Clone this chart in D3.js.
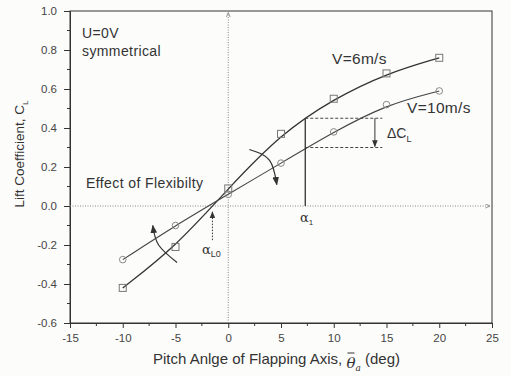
<!DOCTYPE html>
<html><head><meta charset="utf-8">
<script src="https://cdn.jsdelivr.net/npm/d3@7"></script>
<style>
html,body{margin:0;padding:0;background:#fcfcfb;}
svg{display:block;font-family:"Liberation Sans",Arial,sans-serif;}
</style></head>
<body>
<svg id="c" width="511" height="376"></svg>
<script>
const pitch = [-10, -5, 0, 5, 10, 15, 20];
const cl6 = [-0.42, -0.21, 0.09, 0.37, 0.55, 0.68, 0.76];
const cl10 = [-0.275, -0.10, 0.06, 0.22, 0.38, 0.52, 0.59];
const xTicks = [-15, -10, -5, 0, 5, 10, 15, 20, 25];
const yTicks = [-0.6, -0.4, -0.2, 0.0, 0.2, 0.4, 0.6, 0.8, 1.0];
const alpha1 = 7.3, clUpper = 0.45, clLower = 0.30, alphaL0 = -1.5;

const W = 511, H = 376;
const m = {l: 70, t: 11, r: 19, b: 53};
const svg = d3.select("#c");
const ink = "#333";
const x = d3.scaleLinear().domain([-15, 25]).range([m.l, W - m.r]);
const y = d3.scaleLinear().domain([-0.6, 1.0]).range([H - m.b, m.t]);

const defs = svg.append("defs");
defs.append("marker").attr("id","ah").attr("viewBox","0 0 10 10").attr("refX",9).attr("refY",5)
  .attr("markerWidth",7).attr("markerHeight",7).attr("orient","auto-start-reverse")
  .append("path").attr("d","M0,1 L10,5 L0,9 Z").attr("fill",ink);
defs.append("marker").attr("id","ahs").attr("viewBox","0 0 10 10").attr("refX",9).attr("refY",5)
  .attr("markerWidth",5).attr("markerHeight",5).attr("orient","auto")
  .append("path").attr("d","M0,1 L10,5 L0,9").attr("fill","none").attr("stroke","#777").attr("stroke-width",1.5);

// frame
svg.append("rect").attr("x", m.l).attr("y", m.t).attr("width", W - m.l - m.r).attr("height", H - m.t - m.b)
  .attr("fill","none").attr("stroke", ink).attr("stroke-width", 1);

// axes
const xAxis = d3.axisBottom(x).tickValues(xTicks).tickSize(5).tickPadding(6).tickFormat(d3.format("d"));
const gx = svg.append("g").attr("transform", `translate(0,${H - m.b})`).call(xAxis);
const yAxis = d3.axisLeft(y).tickValues(yTicks).tickSize(6).tickPadding(7).tickFormat(d3.format(".1f"));
const gy = svg.append("g").attr("transform", `translate(${m.l},0)`).call(yAxis);
[gx, gy].forEach(g => {
  g.select(".domain").attr("stroke", ink);
  g.selectAll(".tick line").attr("stroke", ink);
  g.selectAll("text").attr("fill", "#444").attr("font-size", 11.5).attr("font-family", "Liberation Sans, Arial, sans-serif");
});
gy.selectAll("text").text(d => d3.format(".1f")(d).replace("−","-"));
gx.selectAll("text").text(d => String(d));
// minor ticks
const xMinor = d3.range(-12.5, 25, 5);
svg.append("g").selectAll("line").data(xMinor).join("line")
  .attr("x1", d => x(d)).attr("x2", d => x(d)).attr("y1", H - m.b).attr("y2", H - m.b + 3).attr("stroke", ink);
const yMinor = d3.range(-0.5, 1.0, 0.2);
svg.append("g").selectAll("line").data(yMinor).join("line")
  .attr("y1", d => y(d)).attr("y2", d => y(d)).attr("x1", m.l).attr("x2", m.l - 3).attr("stroke", ink);

// dotted reference axes
svg.append("line").attr("x1", x(0)).attr("x2", x(0)).attr("y1", y(-0.6)).attr("y2", y(0.99))
  .attr("stroke", "#888").attr("stroke-width", 1).attr("stroke-dasharray", "1,1.5").attr("marker-end","url(#ahs)");
svg.append("line").attr("x1", x(-15)).attr("x2", x(24.8)).attr("y1", y(0)).attr("y2", y(0))
  .attr("stroke", "#888").attr("stroke-width", 1).attr("stroke-dasharray", "1,1.5").attr("marker-end","url(#ahs)");

// curves (smoothed fits)
const line = d3.line().x(d => x(d[0])).y(d => y(d[1])).curve(d3.curveBasis);
const s6 = pitch.map((p, i) => [p, cl6[i]]);
const s10 = pitch.map((p, i) => [p, cl10[i]]);
svg.append("path").attr("d", line(s6)).attr("fill","none").attr("stroke", ink).attr("stroke-width", 1.3);
svg.append("path").attr("d", line(s10)).attr("fill","none").attr("stroke", "#444").attr("stroke-width", 1.1);

// markers
svg.append("g").selectAll("rect").data(s6).join("rect")
  .attr("x", d => x(d[0]) - 3.5).attr("y", d => y(d[1]) - 3.5).attr("width", 7).attr("height", 7)
  .attr("fill","none").attr("stroke","#777").attr("stroke-width",1);
svg.append("g").selectAll("circle").data(s10).join("circle")
  .attr("cx", d => x(d[0])).attr("cy", d => y(d[1])).attr("r", 3.3)
  .attr("fill","none").attr("stroke","#888").attr("stroke-width",1);

// alpha1 annotations
svg.append("line").attr("x1", x(alpha1)).attr("x2", x(alpha1)).attr("y1", y(0)).attr("y2", y(clUpper))
  .attr("stroke", ink).attr("stroke-width", 1.3);
[clUpper, clLower].forEach(v => svg.append("line").attr("x1", x(alpha1)).attr("x2", x(14.6))
  .attr("y1", y(v)).attr("y2", y(v)).attr("stroke", "#444").attr("stroke-dasharray", "3,2"));
svg.append("line").attr("x1", x(13.9)).attr("x2", x(13.9)).attr("y1", y(clUpper)).attr("y2", y(clLower) - 1)
  .attr("stroke", ink).attr("marker-end","url(#ah)");

// alpha L0 dotted arrow
svg.append("line").attr("x1", x(alphaL0)).attr("x2", x(alphaL0)).attr("y1", y(-0.175)).attr("y2", y(-0.03))
  .attr("stroke", ink).attr("stroke-dasharray","1.5,1.5").attr("marker-end","url(#ah)");

// curved arrows
const arc1 = [[-4.85, -0.29], [-6.6, -0.2], [-7.15, -0.1]];
const arc2 = [[2.0, 0.29], [3.9, 0.235], [4.6, 0.11]];
const cl = d3.line().x(d => x(d[0])).y(d => y(d[1])).curve(d3.curveNatural);
[arc1, arc2].forEach(a => svg.append("path").attr("d", cl(a)).attr("fill","none").attr("stroke", ink)
  .attr("stroke-width",1.2).attr("marker-end","url(#ah)"));

// texts
const txt = (t, px, py, size, ls) => svg.append("text").attr("x", px).attr("y", py).attr("fill", ink)
  .attr("font-size", size).attr("letter-spacing", ls).text(t);
txt("U=0V", 82, 38, 14, 0.4);
txt("symmetrical", 82, 56, 14, 0.4);
txt("Effect of Flexibilty", 86, 188, 14, 0.4);
txt("V=6m/s", 332, 64, 15.5, 0.3);
txt("V=10m/s", 407, 113, 15.5, 0.3);
// Delta C_L
const dcl = svg.append("text").attr("x", 387).attr("y", 138).attr("fill", ink).attr("font-size", 14);
dcl.append("tspan").text("ΔC");
dcl.append("tspan").attr("font-size", 9).attr("dy", 4).text("L");
// alpha labels
const a1 = svg.append("text").attr("x", 300).attr("y", 222).attr("fill", ink).attr("font-size", 13)
  .attr("font-family","DejaVu Serif, serif");
a1.append("tspan").text("α");
a1.append("tspan").attr("font-size", 8).attr("dy", 3).attr("font-family","Liberation Sans, Arial").text("1");
const a0 = svg.append("text").attr("x", 202).attr("y", 254).attr("fill", ink).attr("font-size", 13)
  .attr("font-family","DejaVu Serif, serif");
a0.append("tspan").text("α");
a0.append("tspan").attr("font-size", 9).attr("dy", 3).attr("font-family","Liberation Sans, Arial").text("L0");

// axis titles
const xt = svg.append("text").attr("x", 153).attr("y", 364).attr("fill", ink).attr("font-size", 15);
xt.append("tspan").text("Pitch Anlge of Flapping Axis, ");
const th = xt.append("tspan").attr("font-family","DejaVu Serif, serif").attr("font-style","italic").attr("dy", 4).text("θ");
xt.append("tspan").attr("font-family","DejaVu Serif, serif").attr("font-style","italic").attr("font-size", 9).attr("dy", 3).text("a");
xt.append("tspan").attr("dy", -7).text(" (deg)");
// overbar on theta
const thBox = th.node().getExtentOfChar ? th.node().getExtentOfChar(0) : null;
if (thBox) {
  svg.append("line").attr("x1", thBox.x + 1).attr("x2", thBox.x + thBox.width - 1)
    .attr("y1", thBox.y - 1).attr("y2", thBox.y - 1).attr("stroke", ink).attr("stroke-width", 1);
}

const yt = svg.append("text").attr("transform", "translate(24,154) rotate(-90)").attr("text-anchor","middle")
  .attr("fill", ink).attr("font-size", 13.5);
yt.append("tspan").text("Lift Coefficient, C");
yt.append("tspan").attr("font-size", 8).attr("dy", 4).text("L");
</script>
</body></html>
